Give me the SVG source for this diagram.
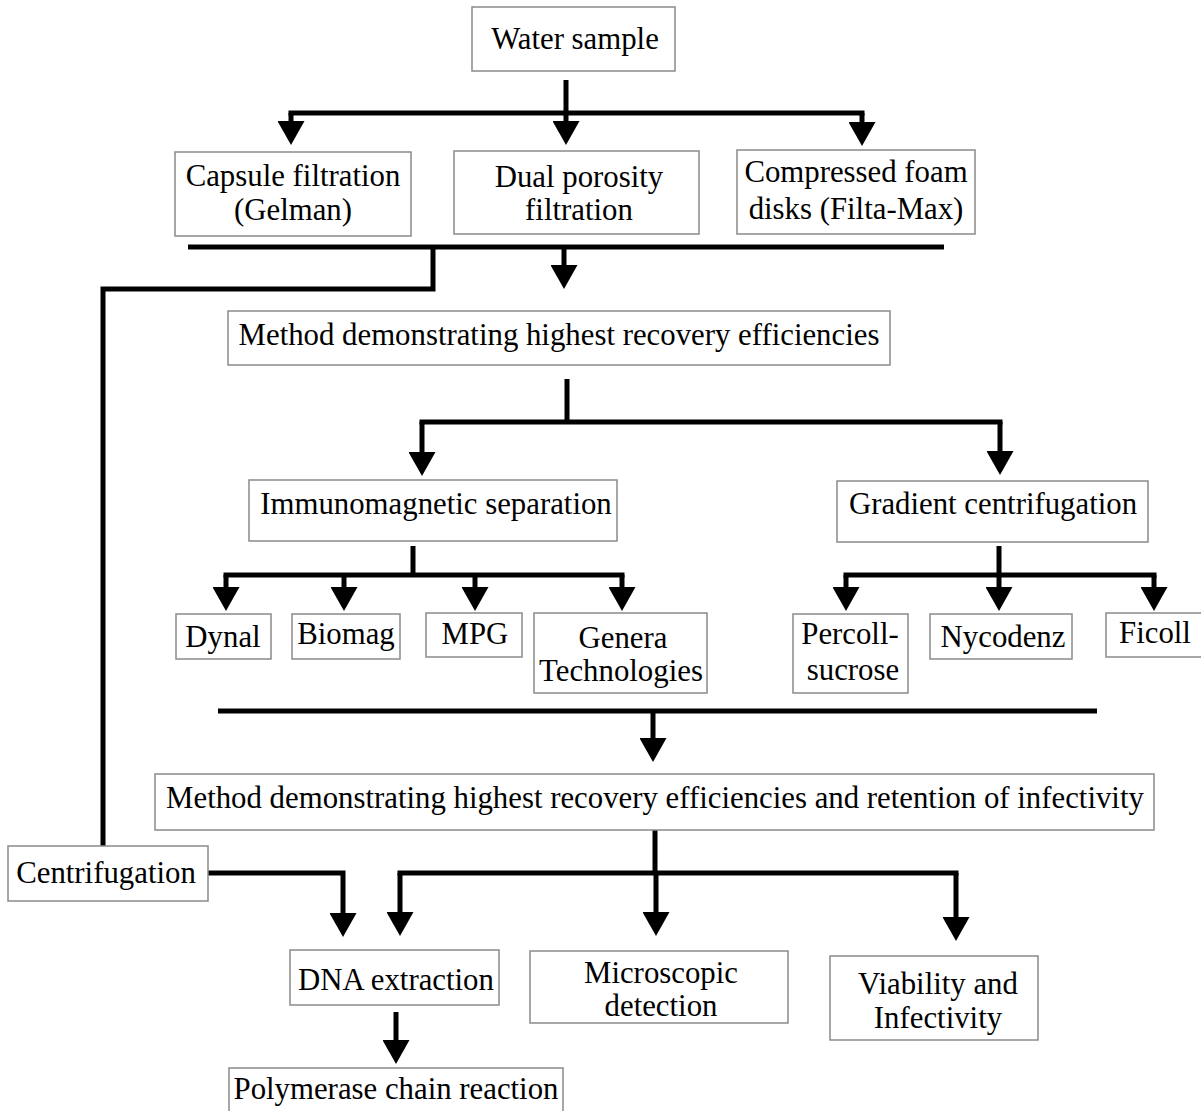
<svg xmlns="http://www.w3.org/2000/svg" width="1201" height="1111" viewBox="0 0 1201 1111">
<defs>
<style>
.box{fill:#fff;stroke:#8a8a8a;stroke-width:1.5}
.t{font-family:"Liberation Serif","Times New Roman",serif;font-size:30.8px;fill:#000;text-anchor:middle}
.c path{fill:none;stroke:#000;stroke-width:5;stroke-linejoin:miter;stroke-linecap:butt}
.a{marker-end:url(#ah)}
</style>
<marker id="ah" markerUnits="userSpaceOnUse" markerWidth="24" markerHeight="27" viewBox="0 0 24 27" refX="0" refY="13.5" orient="auto">
<path d="M0,0 L24,13.5 L0,27 z" fill="#000"/>
</marker>
</defs>
<g id="connectors" class="c">
<path d="M566,80 V113"/>
<path d="M288.5,113 H864.5"/>
<path class="a" d="M291,113 V121"/>
<path class="a" d="M566,113 V121"/>
<path class="a" d="M862,113 V122"/>
<path d="M188,247 H944"/>
<path d="M433,247 V289 H103 V846"/>
<path class="a" d="M564,247 V265"/>
<path d="M567,379 V422"/>
<path d="M419.5,422 H1002.5"/>
<path class="a" d="M422,422 V452"/>
<path class="a" d="M1000,422 V451"/>
<path d="M413,546 V575"/>
<path d="M223.5,575 H624.5"/>
<path class="a" d="M226,575 V587"/>
<path class="a" d="M344,575 V587"/>
<path class="a" d="M475,575 V587"/>
<path class="a" d="M622,575 V587"/>
<path d="M999,546 V575"/>
<path d="M843.5,575 H1156.5"/>
<path class="a" d="M846,575 V587"/>
<path class="a" d="M999,575 V587"/>
<path class="a" d="M1154,575 V587"/>
<path d="M218,711 H1097"/>
<path class="a" d="M653,711 V738"/>
<path d="M655,830 V873"/>
<path d="M397.5,873 H958.5"/>
<path class="a" d="M400,873 V912"/>
<path class="a" d="M656,873 V912"/>
<path class="a" d="M956,873 V917"/>
<path class="a" d="M208,873 H343 V913"/>
<path class="a" d="M396,1012 V1040"/>
</g>
<g id="water"><rect class="box" x="472" y="7" width="203" height="64"/><text class="t" x="575" y="49">Water sample</text></g>
<g id="capsule"><rect class="box" x="175" y="152" width="236" height="84"/><text class="t" x="293" y="186">Capsule filtration</text><text class="t" x="293" y="220">(Gelman)</text></g>
<g id="dual"><rect class="box" x="454" y="151" width="245" height="83"/><text class="t" x="579" y="187">Dual porosity</text><text class="t" x="579" y="220">filtration</text></g>
<g id="foam"><rect class="box" x="737" y="150" width="238" height="84"/><text class="t" x="856" y="182">Compressed foam</text><text class="t" x="856" y="219">disks (Filta-Max)</text></g>
<g id="method1"><rect class="box" x="228" y="311" width="662" height="54"/><text class="t" x="559" y="345">Method demonstrating highest recovery efficiencies</text></g>
<g id="immuno"><rect class="box" x="249" y="480" width="368" height="61"/><text class="t" x="436" y="514">Immunomagnetic separation</text></g>
<g id="gradient"><rect class="box" x="837" y="481" width="311" height="61"/><text class="t" x="993" y="514">Gradient centrifugation</text></g>
<g id="dynal"><rect class="box" x="176" y="614" width="95" height="45"/><text class="t" x="223" y="647">Dynal</text></g>
<g id="biomag"><rect class="box" x="292" y="614" width="108" height="45"/><text class="t" x="346" y="644">Biomag</text></g>
<g id="mpg"><rect class="box" x="426" y="613" width="96" height="44"/><text class="t" x="475" y="644">MPG</text></g>
<g id="genera"><rect class="box" x="534" y="613" width="173" height="80"/><text class="t" x="623" y="648">Genera</text><text class="t" x="621" y="681">Technologies</text></g>
<g id="percoll"><rect class="box" x="793" y="614" width="115" height="79"/><text class="t" x="850" y="644">Percoll-</text><text class="t" x="853" y="680">sucrose</text></g>
<g id="nycodenz"><rect class="box" x="930" y="614" width="142" height="45"/><text class="t" x="1003" y="647">Nycodenz</text></g>
<g id="ficoll"><rect class="box" x="1106" y="613" width="100" height="44"/><text class="t" x="1155" y="643">Ficoll</text></g>
<g id="method2"><rect class="box" x="155" y="774" width="999" height="56"/><text class="t" x="655" y="808">Method demonstrating highest recovery efficiencies and retention of infectivity</text></g>
<g id="centrifugation"><rect class="box" x="8" y="846" width="200" height="55"/><text class="t" x="106" y="883">Centrifugation</text></g>
<g id="dna"><rect class="box" x="290" y="950" width="209" height="55"/><text class="t" x="396" y="990">DNA extraction</text></g>
<g id="microscopic"><rect class="box" x="530" y="951" width="258" height="72"/><text class="t" x="661" y="983">Microscopic</text><text class="t" x="661" y="1016">detection</text></g>
<g id="viability"><rect class="box" x="830" y="956" width="208" height="84"/><text class="t" x="938" y="994">Viability and</text><text class="t" x="938" y="1028">Infectivity</text></g>
<g id="pcr"><rect class="box" x="229" y="1068" width="334" height="50"/><text class="t" x="396" y="1099">Polymerase chain reaction</text></g>
</svg>
